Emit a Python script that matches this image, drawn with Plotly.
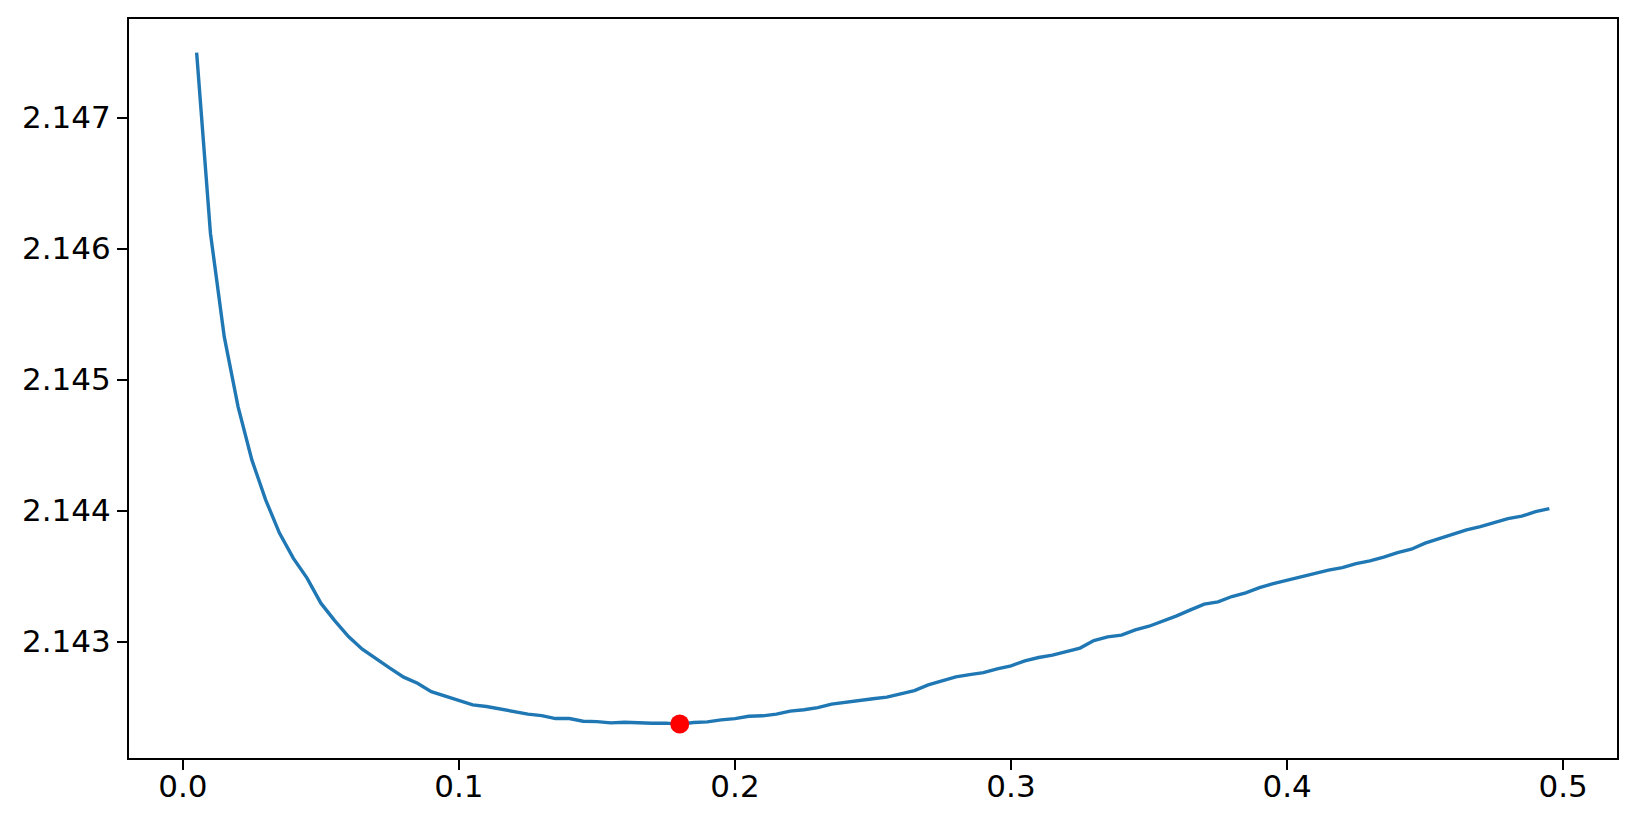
import plotly.graph_objects as go

x_values = [round(0.005 * i, 3) for i in range(1, 100)]
y_values = [
    2.147497, 2.146118, 2.145328, 2.144794, 2.144387, 2.144082, 2.143828, 2.143637, 2.143484, 2.143293,
    2.143160, 2.143038, 2.142942, 2.142866, 2.142797, 2.142728, 2.142682, 2.142618, 2.142585, 2.142550,
    2.142517, 2.142504, 2.142484, 2.142461, 2.142446, 2.142435, 2.142412, 2.142412, 2.142392, 2.142389,
    2.142379, 2.142384, 2.142379, 2.142376, 2.142377, 2.142370, 2.142382, 2.142387, 2.142402, 2.142412,
    2.142430, 2.142433, 2.142446, 2.142469, 2.142479, 2.142496, 2.142522, 2.142537, 2.142553, 2.142563,
    2.142576, 2.142598, 2.142626, 2.142669, 2.142702, 2.142731, 2.142748, 2.142763, 2.142792, 2.142815,
    2.142853, 2.142878, 2.142896, 2.142924, 2.142950, 2.143008, 2.143036, 2.143049, 2.143089, 2.143117,
    2.143156, 2.143196, 2.143242, 2.143286, 2.143303, 2.143344, 2.143372, 2.143412, 2.143443, 2.143469,
    2.143489, 2.143517, 2.143545, 2.143565, 2.143595, 2.143616, 2.143644, 2.143679, 2.143705, 2.143751,
    2.143784, 2.143814, 2.143853, 2.143878, 2.143911, 2.143939, 2.143957, 2.143992, 2.144015,
]
min_x = [0.18]
min_y = [2.14237]

x_tick_vals = [0.0, 0.1, 0.2, 0.3, 0.4, 0.5]
x_tick_text = ["0.0", "0.1", "0.2", "0.3", "0.4", "0.5"]
y_tick_vals = [2.143, 2.144, 2.145, 2.146, 2.147]
y_tick_text = ["2.143", "2.144", "2.145", "2.146", "2.147"]

fig = go.Figure()
fig.add_trace(go.Scatter(x=x_values, y=y_values, mode="lines",
                         line=dict(color="#1f77b4", width=3.4), showlegend=False,
                         hoverinfo="x+y"))
fig.add_trace(go.Scatter(x=min_x, y=min_y, mode="markers",
                         marker=dict(color="red", size=19, line=dict(width=0)),
                         showlegend=False))

axis_common = dict(showline=True, mirror=True, linecolor="black", linewidth=2,
                   ticks="outside", ticklen=10, tickwidth=2, tickcolor="black",
                   showgrid=False, zeroline=False, automargin=False,
                   tickfont=dict(family="DejaVu Sans", size=31, color="black"))

fig.update_layout(
    width=1636, height=827,
    margin=dict(l=129, r=19, t=19, b=69),
    plot_bgcolor="white", paper_bgcolor="white",
    xaxis=dict(range=[-0.0195, 0.5195], tickvals=x_tick_vals, ticktext=x_tick_text,
               ticklabelstandoff=-10, **axis_common),
    yaxis=dict(range=[2.142111, 2.147753], tickvals=y_tick_vals, ticktext=y_tick_text,
               ticklabelstandoff=0, **axis_common),
)

fig.write_html("out.html", config={"displayModeBar": False},
               post_script="document.body.style.margin='0';document.body.style.overflow='hidden';")
